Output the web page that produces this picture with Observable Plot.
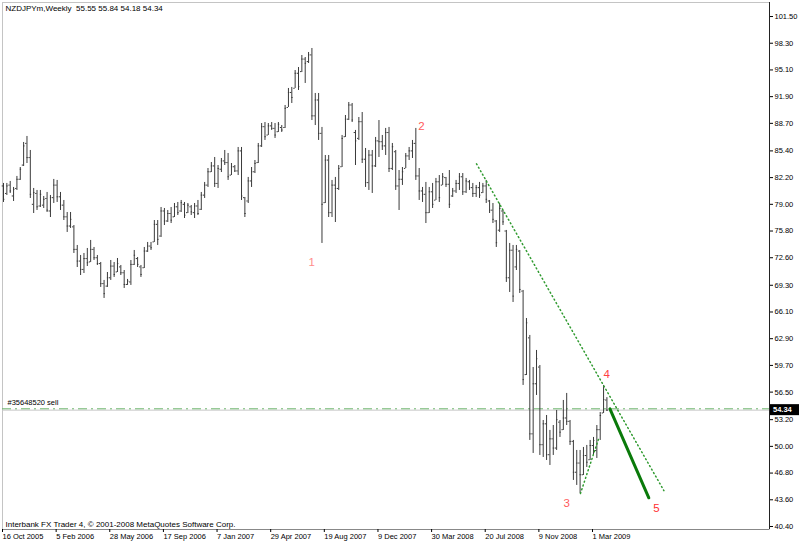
<!DOCTYPE html>
<html><head><meta charset="utf-8">
<script src="https://cdn.jsdelivr.net/npm/d3@7"></script>
<script src="https://cdn.jsdelivr.net/npm/@observablehq/plot@0.6"></script>
<style>
html,body{margin:0;padding:0;background:#fff;}
#chart{width:800px;height:542px;}
</style></head><body><div id="chart"></div>
<script>
// ---- data (weekly bars, index 0 = week of 16 Oct 2005) ----
const symbol = "NZDJPYm,Weekly";
const lastOHLC = [55.55, 55.84, 54.18, 54.34];
// [open, high, low, close]
const weeklyBars = [
[81.2,81.50,79.22,79.6],[80.3,81.50,80.06,81.2],[81.3,81.74,80.30,80.6],[80.0,81.02,79.34,80.8],[80.9,82.34,80.66,82.0],
[82.0,83.41,81.86,83.2],[83.7,86.41,83.53,86.0],[86.3,87.13,83.89,84.6],[84.6,85.45,79.70,80.2],[79.0,80.90,77.90,80.4],
[80.3,80.66,78.26,78.7],[78.8,80.66,78.62,80.2],[78.9,79.94,78.50,79.6],[79.7,80.42,78.02,78.3],[78.2,80.06,77.42,79.8],
[79.8,81.98,79.10,81.3],[81.3,81.86,79.22,79.9],[79.9,80.42,78.26,78.9],[78.9,79.46,77.06,77.5],[77.5,78.02,75.63,76.4],
[76.4,78.02,76.11,77.2],[76.3,76.46,73.11,73.6],[73.6,74.07,71.43,72.2],[72.2,72.87,70.47,71.2],[71.2,73.11,70.71,72.5],
[72.5,73.71,71.55,72.0],[72.1,74.67,72.03,73.6],[73.6,73.83,72.27,72.6],[72.6,72.87,71.67,71.9],[71.9,72.03,69.04,69.5],
[69.5,69.88,67.72,68.3],[69.2,70.83,69.04,70.2],[70.2,72.27,69.88,71.6],[71.6,72.03,70.24,70.6],[70.9,72.51,70.83,71.9],
[71.5,71.67,70.47,70.8],[70.8,71.07,68.92,69.4],[69.4,70.00,69.28,69.8],[69.7,72.27,69.28,71.8],[71.8,73.47,71.67,72.9],
[72.5,72.63,71.43,71.8],[71.5,71.67,70.24,70.6],[71.4,73.83,71.31,73.4],[73.4,74.43,73.23,74.0],[74.0,74.43,73.47,73.8],
[74.5,77.06,74.43,76.6],[76.6,77.06,74.07,74.8],[75.2,78.62,75.03,78.2],[78.2,78.50,76.46,77.0],[77.0,78.26,76.82,77.9],
[77.9,78.62,76.70,77.1],[77.5,79.10,77.42,78.7],[78.7,79.22,77.66,78.0],[78.2,79.46,78.02,79.2],[79.0,79.22,77.30,77.7],
[78.0,79.10,77.90,78.9],[78.7,78.86,77.66,78.1],[78.0,79.10,77.30,78.8],[78.8,79.46,77.66,77.9],[78.4,80.42,78.26,80.1],
[80.1,81.62,79.70,81.3],[81.3,83.29,81.02,82.9],[82.9,84.01,82.81,83.6],[83.6,84.61,81.02,81.5],[81.5,83.65,80.90,83.3],
[83.2,84.49,82.81,84.2],[84.2,85.45,83.65,84.0],[84.0,85.09,81.86,82.3],[82.5,83.89,82.45,83.5],[83.5,83.65,82.81,83.0],
[83.0,85.81,82.45,85.4],[85.4,85.81,79.46,80.0],[79.8,79.82,77.42,77.9],[79.4,82.22,79.10,81.8],[81.8,83.41,81.02,82.9],
[82.9,84.25,82.69,83.9],[84.0,86.29,83.89,86.0],[86.0,88.68,85.81,88.3],[88.3,88.80,86.65,87.1],[87.3,88.68,87.25,88.4],
[88.4,88.80,87.85,88.1],[88.1,88.68,86.89,87.3],[87.7,88.80,87.61,88.6],[88.2,88.44,87.61,87.9],[88.2,90.84,88.09,90.5],
[90.6,92.88,90.60,92.4],[92.4,93.00,91.08,91.8],[92.9,95.03,92.88,94.7],[94.7,95.39,92.64,93.1],[94.9,96.83,94.79,96.4],
[96.4,96.59,93.48,95.9],[96.1,97.19,95.87,96.9],[96.9,97.67,89.04,89.6],[89.6,92.28,88.44,91.5],[91.5,92.28,86.65,87.5],
[87.5,88.21,74.31,79.0],[79.2,84.85,79.10,84.3],[84.3,84.85,77.42,78.0],[78.0,81.86,77.42,81.3],[81.3,82.22,76.82,80.9],
[80.9,83.65,80.66,83.3],[83.5,87.25,83.41,86.9],[87.1,89.64,87.01,89.2],[89.2,91.20,89.04,90.9],[90.9,91.08,88.80,89.1],
[87.6,87.85,83.65,86.6],[86.9,89.40,86.65,88.9],[88.9,90.00,83.89,84.4],[84.4,85.69,81.02,81.6],[81.6,85.45,80.66,84.9],
[84.9,85.45,80.30,83.6],[83.6,87.01,83.41,86.6],[86.6,89.04,84.61,86.5],[86.5,87.25,85.45,86.0],[86.0,88.09,84.85,87.6],
[87.6,88.21,82.81,83.3],[83.3,86.29,83.05,85.9],[85.3,85.45,80.66,81.2],[81.2,83.05,78.26,82.0],[82.0,83.41,81.26,82.9],
[83.3,85.09,83.29,84.8],[84.8,85.81,84.25,85.4],[85.4,86.65,84.49,86.3],[86.3,88.09,81.86,82.4],[82.4,83.29,79.46,80.6],
[80.6,81.02,79.22,80.2],[80.2,81.62,76.70,78.0],[78.0,81.02,77.90,80.5],[80.5,81.50,78.50,79.0],[79.5,82.10,79.46,81.7],
[81.7,82.45,79.22,79.8],[81.3,82.69,81.26,82.3],[82.2,82.22,81.02,81.4],[81.4,83.05,78.50,79.0],[80.0,80.90,79.82,80.6],
[80.6,81.86,80.30,81.5],[81.5,82.69,80.66,82.3],[82.3,82.69,80.06,80.5],[80.5,82.10,80.30,81.8],[81.7,81.86,80.66,81.0],
[81.0,81.50,79.82,80.3],[80.3,81.26,79.82,81.0],[81.0,81.62,79.70,80.1],[80.4,81.50,80.30,81.2],[81.2,81.86,79.10,79.6],
[79.4,79.46,77.90,78.3],[78.3,79.10,76.70,77.2],[77.0,77.06,73.83,74.4],[75.9,79.10,75.63,78.5],[78.2,78.26,76.46,76.9],
[75.8,75.87,69.64,70.2],[70.2,74.31,68.44,73.5],[73.5,74.07,67.24,68.0],[71.5,74.07,71.07,73.6],[73.4,73.47,68.32,68.8],
[68.6,68.68,57.30,58.0],[58.6,65.32,58.49,64.8],[63.0,63.29,50.71,51.5],[51.5,59.45,49.15,57.5],[57.5,61.49,56.10,60.5],
[59.5,59.69,48.91,50.2],[50.2,53.10,48.67,52.7],[52.7,53.70,48.31,49.0],[49.0,51.91,47.71,50.9],[50.9,52.50,48.91,49.8],
[49.8,54.30,49.51,53.2],[52.9,53.10,51.07,51.7],[52.0,55.50,51.91,53.4],[53.4,56.34,52.50,53.0],[53.0,53.10,50.11,50.6],
[50.6,50.71,45.92,46.9],[46.9,49.51,45.32,48.0],[48.0,49.51,44.36,46.6],[46.6,49.87,46.51,48.9],[48.9,50.11,47.47,48.1],
[48.4,50.71,48.31,50.1],[50.1,51.07,48.91,50.7],[49.5,52.50,48.55,52.0],[52.0,54.06,50.71,53.7],[54.0,57.30,53.94,55.6],
lastOHLC
];
const priceTicks = [101.5,98.3,95.1,91.9,88.7,85.4,82.2,79.0,75.8,72.6,69.3,66.1,62.9,59.7,56.5,53.2,50.0,46.8,43.6,40.4];
const dateTickWeeks = [0,16,32,48,64,80,96,112,128,144,160,176];
const dateTickLabels = ["16 Oct 2005","5 Feb 2006","28 May 2006","17 Sep 2006","7 Jan 2007","29 Apr 2007",
  "19 Aug 2007","9 Dec 2007","30 Mar 2008","20 Jul 2008","9 Nov 2008","1 Mar 2009"];
// trend lines: [week, price]
const upperTrend = [[141.1, 83.85], [197.0, 44.70]];
const lowerTrend = [[172.1, 44.35], [177.6, 51.00]];
const wave5Target = [[180.9, 54.50], [192.5, 43.84]];
const waveLabels = [
  {text:"1", week:91.9, price:72.03, color:"#ff8c8c"},
  {text:"2", week:124.7, price:88.32, color:"#ff5a5a"},
  {text:"3", week:168.0, price:43.16, color:"#ff5a5a"},
  {text:"4", week:179.9, price:58.61, color:"#ff4040"},
  {text:"5", week:194.8, price:42.56, color:"#ff3030"}
];
const orderPrice = 54.50;
const orderLabel = "#35648520 sell";
const bidPrice = lastOHLC[3];
const footer = "Interbank FX Trader 4, \u00a9 2001-2008 MetaQuotes Software Corp.";

const xDomain = [-0.3, 228.5];
const yDomain = [40.04, 103.18];
const FONT = "Liberation Sans, Arial, sans-serif";

const chart = Plot.plot({
  width: 800, height: 542,
  marginLeft: 2, marginRight: 31, marginTop: 2, marginBottom: 13,
  style: {fontFamily: FONT, fontSize: "7.5px", color: "#000", background: "#fff"},
  x: {domain: xDomain, axis: null},
  y: {domain: yDomain, axis: null},
  marks: [
    Plot.frame({stroke: "#c4c4c4"}),
    // bid line and order line
    Plot.ruleY([bidPrice], {stroke: "#c8c8c8", strokeWidth: 1}),
    Plot.ruleY([orderPrice], {stroke: "#6cb46c", strokeDasharray: "9,4,2,4"}),
    Plot.text([orderLabel], {frameAnchor: "left", y: orderPrice, text: d => d, dx: 5, dy: -6,
      textAnchor: "start", fontSize: 7.5, fill: "#000"}),
    // OHLC bars
    Plot.ruleX(weeklyBars, {x: (d, i) => i, y1: d => d[2], y2: d => d[1], stroke: "#3a3a3a"}),
    Plot.ruleY(weeklyBars, {y: d => d[0], x1: (d, i) => i - 0.4, x2: (d, i) => i, stroke: "#3a3a3a"}),
    Plot.ruleY(weeklyBars, {y: d => d[3], x1: (d, i) => i, x2: (d, i) => i + 0.4, stroke: "#3a3a3a"}),
    // trend lines
    Plot.line(upperTrend, {x: d => d[0], y: d => d[1], stroke: "#2f9a2f", strokeDasharray: "1,3"}),
    Plot.line(lowerTrend, {x: d => d[0], y: d => d[1], stroke: "#2f9a2f", strokeDasharray: "1,3"}),
    Plot.line(wave5Target, {x: d => d[0], y: d => d[1], stroke: "#0a7a0a", strokeWidth: 3}),
    Plot.text(waveLabels, {x: "week", y: "price", text: "text", fill: d => d.color, fontSize: 11.5}),
    // axes
    Plot.ruleX([xDomain[1]], {stroke: "#222"}),
    Plot.ruleY([yDomain[0]], {stroke: "#888"}),
    Plot.axisY(priceTicks, {anchor: "right", tickSize: 3, tickPadding: 2, tickFormat: d => d.toFixed(2),
      fontSize: 7.5, stroke: "#000", label: null}),
    Plot.axisX(dateTickWeeks, {anchor: "bottom", tickSize: 3, tickPadding: 1, textAnchor: "start", dx: -1,
      tickFormat: (d, i) => dateTickLabels[dateTickWeeks.indexOf(d)], fontSize: 7.5, label: null}),
    // header and footer
    Plot.text([symbol + "\u00a0\u00a0" + lastOHLC.map(v => v.toFixed(2)).join(" ")], {frameAnchor: "top-left",
      text: d => d, dx: 3, dy: 3, textAnchor: "start", lineAnchor: "top", fontSize: 8, fill: "#000"}),
    Plot.text([footer], {frameAnchor: "bottom-left", text: d => d, dx: 3, dy: -3, textAnchor: "start",
      lineAnchor: "bottom", fontSize: 8, fill: "#000"})
  ]
});

// current price box on the right axis, positioned with Plot's own scales
const ys = chart.scale("y").apply(bidPrice);
const xr = chart.scale("x").range[1];
const g = d3.select(chart).append("g");
g.append("rect").attr("x", xr + 1).attr("y", ys - 5.5).attr("width", 29).attr("height", 11).attr("fill", "#000");
g.append("text").attr("x", xr + 4).attr("y", ys).attr("dy", "0.35em").attr("fill", "#fff")
  .attr("text-anchor", "start")
  .attr("font-family", FONT).attr("font-size", 7.5).attr("font-weight", "bold").text(bidPrice.toFixed(2));

document.getElementById("chart").appendChild(chart);
</script>
</body></html>
